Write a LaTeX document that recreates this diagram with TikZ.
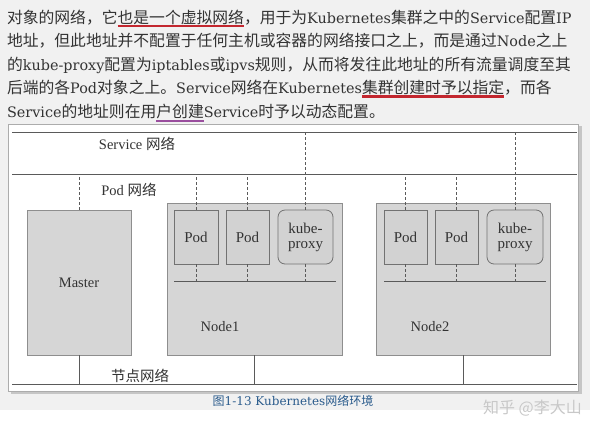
\documentclass[tikz,border=0pt]{standalone}
\usepackage{fontspec}
\setmainfont{DejaVu Serif}
\newfontfamily\cjk{Noto Sans CJK SC}
\newfontfamily\tms{Liberation Serif}
\newcommand\zh[1]{{\cjk\fontsize{15.8}{18}\selectfont #1}}
\newcommand\zhd[1]{{\cjk #1}}
\definecolor{paper}{HTML}{F1F1F1}
\definecolor{textgray}{HTML}{333333}
\definecolor{ulred}{HTML}{C3272F}
\definecolor{ulpurple}{HTML}{9A4E9E}
\definecolor{linegray}{HTML}{5A5A5A}
\definecolor{boxfill}{HTML}{D6D6D6}
\definecolor{boxedge}{HTML}{8E8E8E}
\definecolor{podfill}{HTML}{D2D2D2}
\definecolor{podedge}{HTML}{727272}
\definecolor{capblue}{HTML}{2A5B8C}
\definecolor{wmgray}{HTML}{C8C8C8}
\begin{document}
\begin{tikzpicture}[x=1pt,y=-1pt,
    para/.style={anchor=base west, inner sep=0pt, outer sep=0pt, font=\fontsize{14.4}{17}\selectfont, text=textgray},
    redline/.style={draw=ulred, line width=2.4pt},
    purpline/.style={draw=ulpurple, line width=2.4pt},
    net/.style={draw=linegray, line width=0.8pt},
    link/.style={draw=linegray, line width=0.6pt, dash pattern=on 3pt off 2pt},
    hostbox/.style={draw=boxedge, fill=boxfill, line width=0.8pt},
    podbox/.style={draw=podedge, fill=podfill, line width=0.8pt, minimum height=54pt, inner sep=1pt, font=\tms\fontsize{15}{16}\selectfont, text=textgray},
    lbl/.style={inner sep=0pt, font=\tms\fontsize{14.5}{16}\selectfont, text=textgray}]
  \useasboundingbox (0,0) rectangle (596,432);
  \fill[white] (0,0) rectangle (596,432);
  \fill[paper] (0,0) rectangle (590,410);

  % Paragraph above the figure
  \node[para] (ln1a) at (7,23) {\zh{对象的网络，它}};
  \node[para] (ln1b) at (ln1a.base east) {\zh{也是一个虚拟网络}};
  \node[para] (ln1c) at (ln1b.base east) {\zh{，用于为}Kubernetes\zh{集群之中的}Service\zh{配置}IP};
  \node[para] (ln2) at (7,46.5) {\zh{地址，但此地址并不配置于任何主机或容器的网络接口之上，而是通过}Node\zh{之上}};
  \node[para] (ln3) at (7,70) {\zh{的}kube-proxy\zh{配置为}iptables\zh{或}ipvs\zh{规则，从而将发往此地址的所有流量调度至其}};
  \node[para] (ln4a) at (7,93.5) {\zh{后端的各}Pod\zh{对象之上。}Service\zh{网络在}Kubernetes};
  \node[para] (ln4b) at (ln4a.base east) {\zh{集群创建时予以指定}};
  \node[para] (ln4c) at (ln4b.base east) {\zh{，而各}};
  \node[para] (ln5a) at (7,117) {Service\zh{的地址则在用}};
  \node[para] (ln5b) at (ln5a.base east) {\zh{户创建}};
  \node[para] (ln5c) at (ln5b.base east) {Service\zh{时予以动态配置。}};
  \draw[redline] ([yshift=-3pt]ln1b.base west) -- ([yshift=-3pt]ln1b.base east);
  \draw[redline] ([yshift=-3pt]ln4b.base west) -- ([yshift=-3pt]ln4b.base east);
  \draw[purpline] ([yshift=-4pt]ln5b.base west) -- ([yshift=-4pt]ln5b.base east);

  % Figure frame
  \fill[gray!45] (11,126) rectangle (582,394);
  \filldraw[fill=white, draw=gray!65, line width=1pt] (8,124) rectangle (578,391);

  % Network lines
  \coordinate (svcnetL) at (12,132);
  \coordinate (svcnetR) at (577,132);
  \coordinate (podnetL) at (12,174);
  \coordinate (podnetR) at (577,174);
  \coordinate (hostnetL) at (12,384);
  \coordinate (hostnetR) at (577,384);
  \draw[net] (svcnetL) -- (svcnetR);
  \draw[net] (podnetL) -- (podnetR);
  \draw[net] (hostnetL) -- (hostnetR);
  \node[lbl] (svclbl) at (137,144) {Service \zhd{网络}};
  \node[lbl] (podlbl) at (129,190) {Pod \zhd{网络}};
  \node[lbl] (hostlbl) at (140,376) {\zhd{节点网络}};

  % Hosts
  \node[hostbox, minimum width=104pt, minimum height=145pt, font=\tms\fontsize{14.5}{16}\selectfont, text=textgray] (master) at (79,282.5) {Master};
  \node[hostbox, minimum width=175pt, minimum height=152pt] (node1) at (254.5,279) {};
  \node[hostbox, minimum width=174pt, minimum height=152pt] (node2) at (463,279) {};
  \node[lbl] (node1lbl) at (220,327) {Node1};
  \node[lbl] (node2lbl) at (430,327) {Node2};

  % Pods and kube-proxy
  \node[podbox, minimum width=44pt] (pod1) at (196,237) {Pod};
  \node[podbox, minimum width=43pt] (pod2) at (247.5,237) {Pod};
  \node[podbox, minimum width=55pt, rounded corners=7pt, align=center] (proxy1) at (305.5,237) {kube-\\[-1pt]proxy};
  \node[podbox, minimum width=43pt] (pod3) at (405.5,237) {Pod};
  \node[podbox, minimum width=43pt] (pod4) at (456.5,237) {Pod};
  \node[podbox, minimum width=56pt, rounded corners=7pt, align=center] (proxy2) at (515,237) {kube-\\[-1pt]proxy};

  % Buses inside the nodes
  \coordinate (bus1L) at (174,281);
  \coordinate (bus1R) at (336,281);
  \coordinate (bus2L) at (384,281);
  \coordinate (bus2R) at (546,281);
  \draw[net] (bus1L) -- (bus1R);
  \draw[net] (bus2L) -- (bus2R);

  % Dashed links
  \draw[link] (master.north) -- (master.north |- podnetL);
  \foreach \p in {pod1,pod2,pod3,pod4} {
    \draw[link] (\p.north) -- (\p.north |- podnetL);
  }
  \foreach \p in {proxy1,proxy2} {
    \draw[link] (\p.north) -- (\p.north |- svcnetL);
  }
  \foreach \p in {pod1,pod2,proxy1} {
    \draw[link] (\p.south) -- (\p.south |- bus1L);
  }
  \foreach \p in {pod3,pod4,proxy2} {
    \draw[link] (\p.south) -- (\p.south |- bus2L);
  }

  % Host links
  \foreach \h in {master,node1,node2} {
    \draw[draw=linegray, line width=0.6pt] (\h.south) -- (\h.south |- hostnetL);
  }

  % Caption and mark
  \node[inner sep=0pt, font=\fontsize{12}{14}\selectfont, text=capblue] (caption) at (293,401) {\zhd{图}1-13 Kubernetes\zhd{网络环境}};
  \node[inner sep=0pt, anchor=east, font=\cjk\fontsize{16}{17}\selectfont, text=wmgray] (mark) at (582,408) {知乎 @李大山};
\end{tikzpicture}
\end{document}
